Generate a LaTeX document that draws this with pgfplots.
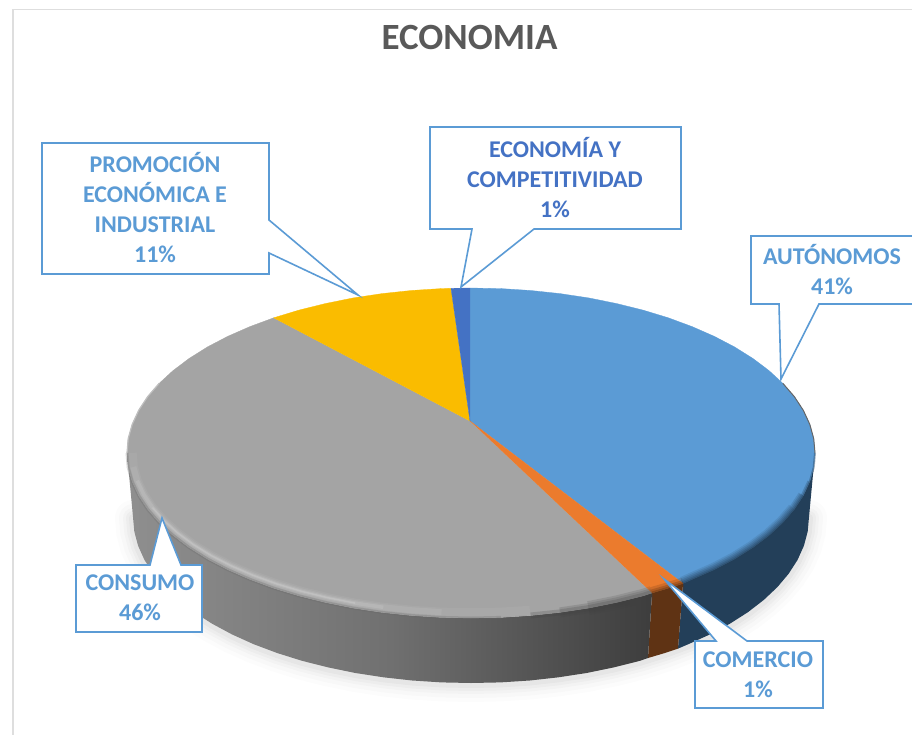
\documentclass[border=0pt]{standalone}
\usepackage{fontspec}
\setmainfont{Carlito}
\usepackage{pgfplots}
\usepackage{pgfplotstable}
\pgfplotsset{compat=1.18}

\definecolor{cblue}{HTML}{5B9BD5}
\definecolor{corange}{HTML}{EB7B2D}
\definecolor{cgray}{HTML}{A4A4A4}
\definecolor{cyellow}{HTML}{FABC00}
\definecolor{cdblue}{HTML}{4472C4}
\definecolor{sblue}{HTML}{233F59}
\definecolor{sbrown}{HTML}{5F3314}
\definecolor{ctitle}{HTML}{595959}

% front edge of the top face, right to left
\pgfplotstableread{
x y
815 453
813.7 467.4
809.8 481.6
803.3 495.7
794.3 509.4
782.8 522.7
768.9 535.5
752.8 547.6
734.5 559.1
714.2 569.7
692.1 579.4
683 583.5
668.3 588.2
652 593
643 595.9
616.4 602.5
588.6 608.1
560 612.4
530.7 615.5
501 617.4
471 618
441 617.4
411.3 615.5
382 612.4
353.4 608.1
325.6 602.5
299 595.9
273.7 588.2
249.9 579.4
227.8 569.7
207.5 559.1
189.2 547.6
173.1 535.5
159.2 522.7
147.7 509.4
138.7 495.7
132.2 481.6
128.2 467.4
127 453
}\toprim

% front edge of the base, right to left
\pgfplotstableread{
x y
809 517
807.7 531.5
803.9 545.8
797.5 560
788.6 573.8
777.3 587.2
763.7 600
747.9 612.2
729.9 623.7
710 634.4
688.3 644.2
664.9 653
640 660.8
613.8 667.4
586.6 673
558.5 677.3
529.7 680.5
500.5 682.4
471 683
441.5 682.4
412.3 680.5
383.5 677.3
355.4 673
328.2 667.4
302 660.8
277.1 653
253.7 644.2
232 634.4
212.1 623.7
194.1 612.2
178.3 600
164.7 587.2
153.4 573.8
144.5 560
138.1 545.8
134.3 531.5
133 517
}\baserim

\begin{document}
\begin{tikzpicture}
\begin{axis}[
    scale only axis,
    width=912pt, height=735pt,
    xmin=0, xmax=912, ymin=0, ymax=735,
    y dir=reverse,
    hide axis,
    no markers,
  ]
  % keeps the page at full size, the axis is hidden
  \addplot[draw=none] coordinates {(0,0) (912,735)};

  % chart frame
  \addplot[draw=black!13, line width=2pt] coordinates {(12.5,735) (12.5,9.5)};
  \addplot[draw=black!13, line width=1.2pt] coordinates {(11.5,9.5) (912,9.5)};

  % shadow under the pie
  \addplot[draw=black, opacity=0.012, line width=36pt, line cap=round] table[x=x, y expr=\thisrow{y}+1] {\baserim};
  \addplot[draw=black, opacity=0.016, line width=28pt, line cap=round] table[x=x, y expr=\thisrow{y}+1] {\baserim};
  \addplot[draw=black, opacity=0.02, line width=20pt, line cap=round] table[x=x, y expr=\thisrow{y}+1] {\baserim};
  \addplot[draw=black, opacity=0.025, line width=14pt, line cap=round] table[x=x, y expr=\thisrow{y}+1] {\baserim};
  \addplot[draw=black, opacity=0.03, line width=8pt, line cap=round] table[x=x, y expr=\thisrow{y}+1] {\baserim};

  % side wall
  \addplot[draw=none, fill=sblue] coordinates {
    (815,453) (813.7,467.4) (809.8,481.6) (803.3,495.7) (794.3,509.4) (782.8,522.7)
    (768.9,535.5) (752.8,547.6) (734.5,559.1) (714.2,569.7) (692.1,579.4) (683,583.5)
    (678,648.6) (688.3,644.2) (710,634.4) (729.9,623.7) (747.9,612.2) (763.7,600)
    (777.3,587.2) (788.6,573.8) (797.5,560) (803.9,545.8) (807.7,531.5) (809,517)};
  \addplot[draw=none, fill=sbrown] coordinates {
    (683,583.5) (668.3,588.2) (652,593) (648,658) (664.9,653) (678,648.6)};
  \addplot[draw=none, left color=black!44, right color=black!76, middle color=black!56] coordinates {
    (652,593) (643,595.9) (616.4,602.5) (588.6,608.1) (560,612.4) (530.7,615.5) (501,617.4)
    (471,618) (441,617.4) (411.3,615.5) (382,612.4) (353.4,608.1) (325.6,602.5) (299,595.9)
    (273.7,588.2) (249.9,579.4) (227.8,569.7) (207.5,559.1) (189.2,547.6) (173.1,535.5)
    (159.2,522.7) (147.7,509.4) (138.7,495.7) (132.2,481.6) (128.2,467.4) (127,453)
    (133,517) (134.3,531.5) (138.1,545.8) (144.5,560) (153.4,573.8) (164.7,587.2)
    (178.3,600) (194.1,612.2) (212.1,623.7) (232,634.4) (253.7,644.2) (277.1,653)
    (302,660.8) (328.2,667.4) (355.4,673) (383.5,677.3) (412.3,680.5) (441.5,682.4)
    (471,683) (500.5,682.4) (529.7,680.5) (558.5,677.3) (586.6,673) (613.8,667.4)
    (640,660.8) (648,658)};

  % top face
  \addplot[draw=cblue, line width=0.3pt, fill=cblue] coordinates {
    (470,421) (470,288) (501,288.6) (530.7,290.5) (560,293.6) (588.6,297.9) (616.4,303.5)
    (643,310.1) (668.3,317.8) (692.1,326.6) (714.2,336.3) (734.5,346.9) (752.8,358.4)
    (768.9,370.5) (782.8,383.3) (794.3,396.6) (803.3,410.3) (809.8,424.4) (813.7,438.6)
    (815,453) (813.7,467.4) (809.8,481.6) (803.3,495.7) (794.3,509.4) (782.8,522.7)
    (768.9,535.5) (752.8,547.6) (734.5,559.1) (714.2,569.7) (692.1,579.4) (683,583.5)};
  \addplot[draw=cgray, line width=0.3pt, fill=cgray] coordinates {
    (470,421) (652,593) (643,595.9) (616.4,602.5) (588.6,608.1) (560,612.4) (530.7,615.5)
    (501,617.4) (471,618) (441,617.4) (411.3,615.5) (382,612.4) (353.4,608.1) (325.6,602.5)
    (299,595.9) (273.7,588.2) (249.9,579.4) (227.8,569.7) (207.5,559.1) (189.2,547.6)
    (173.1,535.5) (159.2,522.7) (147.7,509.4) (138.7,495.7) (132.2,481.6) (128.2,467.4)
    (127,453) (128.2,438.6) (132.2,424.4) (138.7,410.3) (147.7,396.6) (159.2,383.3)
    (173.1,370.5) (189.2,358.4) (207.5,346.9) (227.8,336.3) (249.9,326.6) (273.7,317.8)};
  \addplot[draw=corange, line width=0.3pt, fill=corange] coordinates {
    (470,421) (683,583.5) (668.3,588.2) (652,593)};
  \addplot[draw=cyellow, line width=0.3pt, fill=cyellow] coordinates {
    (470,421) (273.7,317.8) (299,310.1) (325.6,303.5) (353.4,297.9) (382,293.6)
    (411.3,290.5) (441,288.6) (451,288.3)};
  \addplot[draw=cdblue, line width=0.3pt, fill=cdblue] coordinates {
    (470,421) (451,288.3) (470,288)};

  % rim, blue and orange part: dark blur
  \addplot[draw=sblue, opacity=0.14, line width=14pt, skip coords between index={0}{4}, skip coords between index={12}{39}] table[x=x, y=y] {\toprim};
  \addplot[draw=sblue, opacity=0.18, line width=11pt, skip coords between index={0}{3}, skip coords between index={12}{39}] table[x=x, y=y] {\toprim};
  \addplot[draw=sblue, opacity=0.22, line width=8pt, skip coords between index={0}{3}, skip coords between index={12}{39}] table[x=x, y=y] {\toprim};
  \addplot[draw=sblue, opacity=0.28, line width=5pt, skip coords between index={0}{2}, skip coords between index={12}{39}] table[x=x, y=y] {\toprim};
  \addplot[draw=sblue, opacity=0.4, line width=2pt, skip coords between index={12}{39}] table[x=x, y=y] {\toprim};
  \addplot[draw=sbrown, opacity=0.2, line width=12pt, skip coords between index={0}{11}, skip coords between index={14}{39}] table[x=x, y=y] {\toprim};
  \addplot[draw=sbrown, opacity=0.3, line width=7pt, skip coords between index={0}{11}, skip coords between index={14}{39}] table[x=x, y=y] {\toprim};
  \addplot[draw=sbrown, opacity=0.4, line width=3pt, skip coords between index={0}{11}, skip coords between index={14}{39}] table[x=x, y=y] {\toprim};
  % rim, gray part: dark to the right
  \addplot[draw=black!75, opacity=0.16, line width=14pt, skip coords between index={0}{13}, skip coords between index={17}{39}] table[x=x, y=y] {\toprim};
  \addplot[draw=black!75, opacity=0.18, line width=10pt, skip coords between index={0}{13}, skip coords between index={18}{39}] table[x=x, y=y] {\toprim};
  \addplot[draw=black!75, opacity=0.22, line width=6pt, skip coords between index={0}{13}, skip coords between index={19}{39}] table[x=x, y=y] {\toprim};
  % rim, gray part: light band to the left
  \addplot[draw=white, opacity=0.05, line width=9pt, skip coords between index={0}{18}] table[x expr=471+0.985*(\thisrow{x}-471), y expr=453+0.968*(\thisrow{y}-453)] {\toprim};
  \addplot[draw=white, opacity=0.07, line width=6pt, skip coords between index={0}{21}, skip coords between index={38}{39}] table[x expr=471+0.985*(\thisrow{x}-471), y expr=453+0.968*(\thisrow{y}-453)] {\toprim};
  \addplot[draw=white, opacity=0.1, line width=3.5pt, skip coords between index={0}{23}, skip coords between index={37}{39}] table[x expr=471+0.985*(\thisrow{x}-471), y expr=453+0.968*(\thisrow{y}-453)] {\toprim};
  \addplot[draw=white, opacity=0.14, line width=1.5pt, skip coords between index={0}{24}, skip coords between index={35}{39}] table[x expr=471+0.985*(\thisrow{x}-471), y expr=453+0.968*(\thisrow{y}-453)] {\toprim};
  \addplot[draw=black!60, opacity=0.25, line width=3pt, skip coords between index={0}{19}] table[x=x, y=y] {\toprim};
  % rim, back part
  \addplot[draw=black!60, line width=1pt] coordinates {
    (782.8,383.3) (794.3,396.6) (803.3,410.3) (809.8,424.4) (813.7,438.6) (815,453)};
  \addplot[draw=black!25, line width=1.2pt] coordinates {
    (127,453) (128.2,438.6) (132.2,424.4) (138.7,410.3) (147.7,396.6) (159.2,383.3)};

  % callouts
  \addplot[draw=cblue, fill=white, line width=1.6pt, line join=miter] coordinates {
    (42,143) (269,143) (269,220) (358,295) (269,253) (269,274) (42,274) (42,143) (269,143)};
  \addplot[draw=cblue, fill=white, line width=1.6pt, line join=miter] coordinates {
    (430,127) (681,127) (681,229) (534,229) (461,287) (472,229) (430,229) (430,127) (681,127)};
  \addplot[draw=cblue, fill=white, line width=1.6pt, line join=miter] coordinates {
    (912,236) (751,236) (751,304) (779,304) (781,379) (819,304) (912,304)};
  \addplot[draw=cblue, fill=white, line width=1.6pt, line join=miter] coordinates {
    (695,641) (716,641) (664,579) (747,641) (823,641) (823,708) (695,708) (695,641) (716,641)};
  \addplot[draw=cblue, fill=white, line width=1.6pt, line join=miter] coordinates {
    (76,565) (150,565) (162,518) (181,565) (202,565) (202,632) (76,632) (76,565) (150,565)};

  % texts
  \node[text=ctitle, font=\fontsize{37}{40}\selectfont\bfseries] at (axis cs:469.5,37) {ECONOMIA};
  \node[text=cblue, align=center, font=\fontsize{24}{30}\selectfont\bfseries] at (axis cs:155,208) {PROMOCIÓN\\ECONÓMICA E\\INDUSTRIAL\\11\%};
  \node[text=cdblue, align=center, font=\fontsize{24}{30}\selectfont\bfseries] at (axis cs:555,178) {ECONOMÍA Y\\COMPETITIVIDAD\\1\%};
  \node[text=cblue, align=center, font=\fontsize{24}{30}\selectfont\bfseries] at (axis cs:832,270) {AUTÓNOMOS\\41\%};
  \node[text=cblue, align=center, font=\fontsize{24}{30}\selectfont\bfseries] at (axis cs:758,675) {COMERCIO\\1\%};
  \node[text=cblue, align=center, font=\fontsize{24}{30}\selectfont\bfseries] at (axis cs:140,598) {CONSUMO\\46\%};
\end{axis}
\end{tikzpicture}
\end{document}
